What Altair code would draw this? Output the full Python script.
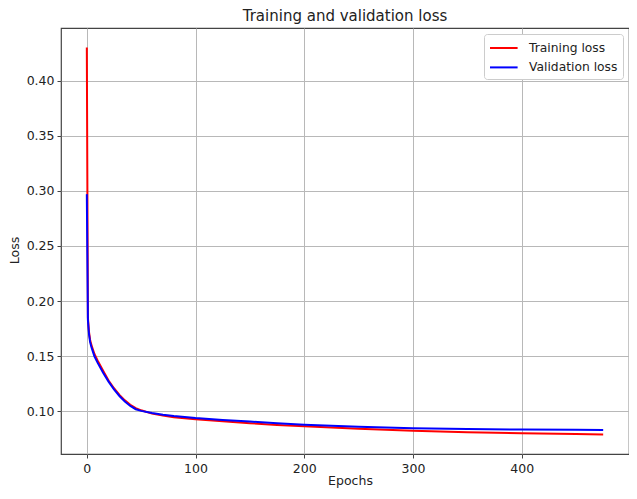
import altair as alt
import pandas as pd

epochs = [0, 1, 2, 3, 4, 5, 7, 10, 15, 20, 25, 30, 35, 40, 45, 50, 60, 70, 80,
          100, 125, 150, 175, 200, 250, 300, 350, 400, 450, 475]
train_loss = [0.430, 0.185, 0.172, 0.165, 0.161, 0.158, 0.152, 0.146, 0.137, 0.128,
              0.121, 0.115, 0.110, 0.106, 0.103, 0.101, 0.0980, 0.0962, 0.0948,
              0.0930, 0.0910, 0.0893, 0.0878, 0.0866, 0.0843, 0.0825, 0.0812,
              0.0802, 0.0795, 0.0790]
val_loss = [0.297, 0.183, 0.170, 0.163, 0.159, 0.156, 0.150, 0.144, 0.135, 0.127,
            0.120, 0.114, 0.109, 0.105, 0.102, 0.1005, 0.0985, 0.0970, 0.0958,
            0.0940, 0.0923, 0.0908, 0.0893, 0.0880, 0.0860, 0.0848, 0.0840,
            0.0836, 0.0833, 0.0832]
series = ["Training loss", "Validation loss"]
colors = ["#ff0000", "#0000ff"]
x_ticks = [0, 100, 200, 300, 400]
y_ticks = [0.10, 0.15, 0.20, 0.25, 0.30, 0.35, 0.40]

rows = []
for e, v in zip(epochs, train_loss):
    rows.append({"epoch": e, "loss": v, "series": series[0], "ord": 0})
for e, v in zip(epochs, val_loss):
    rows.append({"epoch": e, "loss": v, "series": series[1], "ord": 1})
df = pd.DataFrame(rows)

FONT = "DejaVu Sans"

chart = alt.Chart(df).mark_line(strokeWidth=2).encode(
    x=alt.X("epoch:Q",
            scale=alt.Scale(domain=[-23.75, 498.75], nice=False, zero=False),
            axis=alt.Axis(values=x_ticks, title="Epochs", titleX=289, titleY=30,
                          titleBaseline="alphabetic", labelPadding=4)),
    y=alt.Y("loss:Q",
            scale=alt.Scale(domain=[0.0614, 0.4476], nice=False, zero=False),
            axis=alt.Axis(values=y_ticks, format=".2f", title="Loss",
                          titleX=-47, titleY=222, titleAngle=270,
                          titleAlign="center", titleBaseline="middle",
                          labelPadding=3)),
    color=alt.Color("series:N",
                    scale=alt.Scale(domain=series, range=colors),
                    legend=alt.Legend(title=None, orient="none", legendX=423, legendY=6,
                                      symbolType="M-1,0H2.45", symbolStrokeWidth=2,
                                      symbolSize=256, labelFontSize=12.3,
                                      labelFont=FONT, labelColor="#222",
                                      fillColor="white", strokeColor="#cccccc",
                                      cornerRadius=3, padding=5, rowPadding=3.4,
                                      labelOffset=22)),
    order=alt.Order("ord:Q"),
    detail="series:N",
).properties(
    width=568,
    height=426,
    title=alt.TitleParams("Training and validation loss", font=FONT, fontSize=15,
                          fontWeight="normal", color="#222", anchor="middle",
                          offset=4),
    autosize=alt.AutoSizeParams(type="none"),
    padding={"left": 53, "top": 20, "right": 0, "bottom": 35},
).configure_view(
    stroke="#444", strokeWidth=1.2
).configure_axis(
    grid=True, gridColor="#b8b8b8", gridWidth=1, domain=False,
    tickColor="#444", tickSize=4, labelFont=FONT, labelFontSize=12.5,
    labelColor="#222", titleFont=FONT, titleFontSize=12.5, titleFontWeight="normal",
    titleColor="#222",
)

chart.save("out.html", embed_options={"renderer": "svg", "actions": False})
